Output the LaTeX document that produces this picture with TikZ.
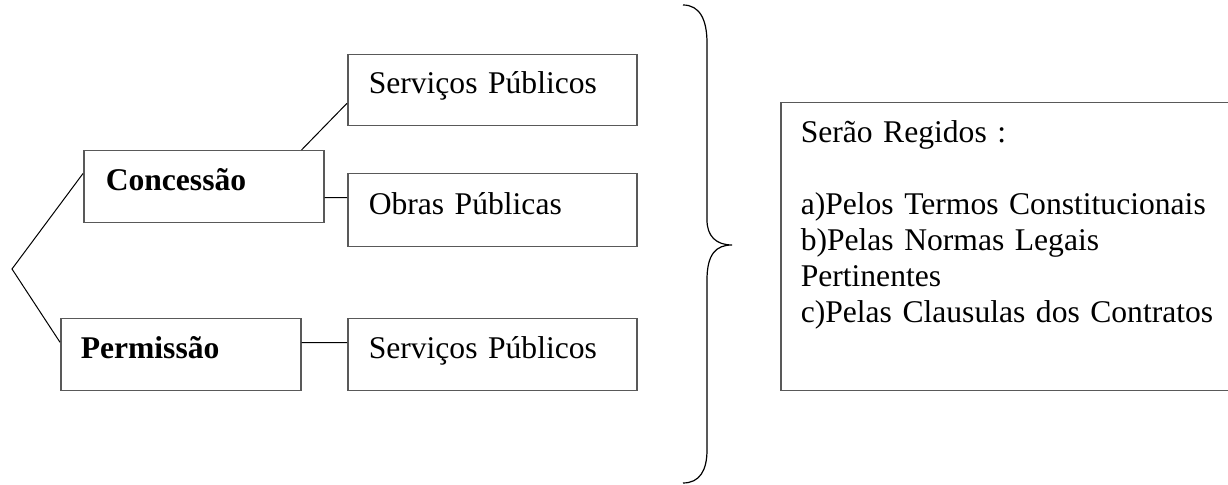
\documentclass[tikz,border=0pt]{standalone}
\usepackage{fontspec}
\setmainfont{Liberation Serif}
\usetikzlibrary{calc}

\begin{document}
\begin{tikzpicture}[-,x=1pt,y=1pt,line width=0.5pt,
                    every node/.style={inner ysep=0pt,align=left,anchor=north west,
                      font=\fontsize{15.8}{18}\selectfont}]
    \tikzset{box/.style={draw=black!65,line width=0.75pt,rectangle,inner xsep=10pt},
      lbl/.style={font=\fontsize{15.8}{18}\selectfont\bfseries}}
    \useasboundingbox (0,0) rectangle (614,-242.5);
    % left side
    \node[box,lbl,inner xsep=11pt,text width=98pt,text height=20pt,text depth=16pt] (con) at (41.5,-75) {Concessão};
    \node[box,lbl,text width=100pt,text height=20pt,text depth=16pt] (per) at (30,-159) {Permissão};
    \node[box,inner xsep=10.5pt,text width=123.5pt,text height=19.5pt,text depth=16pt] (ser1) at (173.5,-27) {Serviços Públicos};
    \node[box,inner xsep=10.5pt,text width=123.5pt,text height=20.5pt,text depth=16pt] (obr) at (173.5,-86.5) {Obras Públicas};
    \node[box,inner xsep=10.5pt,text width=123.5pt,text height=20pt,text depth=16pt] (ser2) at (173.5,-159) {Serviços Públicos};
    % right side
    \node[box,text width=220pt,text height=20pt,text depth=124pt] (reg) at (390,-51)
      {Serão Regidos :\\[18pt]a)Pelos Termos Constitucionais\\b)Pelas Normas Legais\\Pertinentes\\c)Pelas Clausulas dos Contratos};
    \coordinate (fork) at (6,-134.5);
    \coordinate (cj) at ([yshift=-5.5pt]con.east);
    \coordinate (pj) at ([yshift=6pt]per.east);
    \path[draw]
    ($(con.north west)!0.32!(con.south west)$) -- (fork)
      -- ($(per.north west)!0.33!(per.south west)$)
    ([xshift=-11.5pt]con.north east) -- ($(ser1.north west)!0.68!(ser1.south west)$)
    (cj) -- (cj -| obr.west)
    (pj) -- (pj -| ser2.west);
    % brace
    \draw[line width=0.6pt] (341.5,-2.5) .. controls (350,-2.5) and (353.5,-10) .. (353.5,-21.5)
      -- (353.5,-110) .. controls (353.5,-118) and (358,-122.5) .. (366,-122.5)
      .. controls (358,-122.5) and (353.5,-127) .. (353.5,-140)
      -- (353.5,-225) .. controls (353.5,-235) and (350,-241.5) .. (341.5,-241.5);
\end{tikzpicture}
\end{document}
